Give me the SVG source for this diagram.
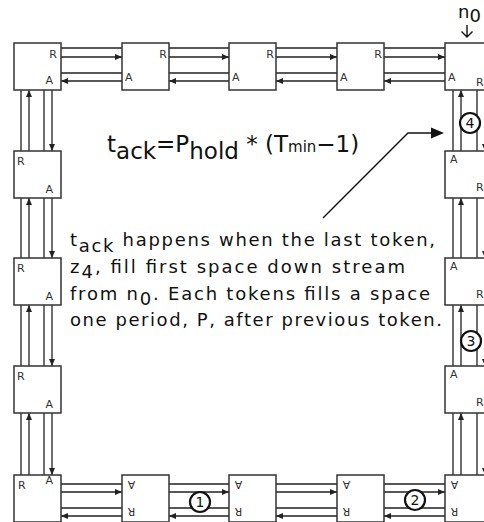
<svg xmlns="http://www.w3.org/2000/svg" width="484" height="522" viewBox="0 0 484 522">
<defs>
<style>
.box{fill:#fff;stroke:#333;stroke-width:1.5}
.ln{stroke:#222;stroke-width:1.3;fill:none}
.lbl{font-family:"DejaVu Sans","Liberation Sans",sans-serif;font-size:11px;fill:#333}
.txt{font-family:"DejaVu Sans","Liberation Sans",sans-serif;font-size:18px;fill:#111}
.eq{font-family:"DejaVu Sans","Liberation Sans",sans-serif;font-size:23px;fill:#111}
.circ{fill:#fff;stroke:#111;stroke-width:2.2}
.num{font-family:"DejaVu Sans","Liberation Sans",sans-serif;font-size:14px;fill:#111;text-anchor:middle}
</style>
<marker id="ah" markerWidth="7" markerHeight="6" refX="7" refY="3" orient="auto" markerUnits="userSpaceOnUse">
<path d="M0,0 L7,3 L0,6 z" fill="#222"/>
</marker>
</defs>

<g id="connectors">
<g class="ln">
<!-- top row -->
<path d="M61,48H122M61,57H122" marker-end="url(#ah)"/>
<path d="M169,48H229M169,57H229" marker-end="url(#ah)"/>
<path d="M276,48H337M276,57H337" marker-end="url(#ah)"/>
<path d="M384,48H445M384,57H445" marker-end="url(#ah)"/>
<path d="M122,73H61M122,81H61" marker-end="url(#ah)"/>
<path d="M229,73H169M229,81H169" marker-end="url(#ah)"/>
<path d="M337,73H276M337,81H276" marker-end="url(#ah)"/>
<path d="M445,73H384M445,81H384" marker-end="url(#ah)"/>
<!-- bottom row -->
<path d="M61,484H122M61,492H122" marker-end="url(#ah)"/>
<path d="M169,484H229M169,492H229" marker-end="url(#ah)"/>
<path d="M276,484H337M276,492H337" marker-end="url(#ah)"/>
<path d="M384,484H445M384,492H445" marker-end="url(#ah)"/>
<path d="M122,508H61M122,516H61" marker-end="url(#ah)"/>
<path d="M229,508H169M229,516H169" marker-end="url(#ah)"/>
<path d="M337,508H276M337,516H276" marker-end="url(#ah)"/>
<path d="M445,508H384M445,516H384" marker-end="url(#ah)"/>
<!-- left column -->
<path d="M21,151V90M29,151V90" marker-end="url(#ah)"/>
<path d="M44,90V151M52,90V151" marker-end="url(#ah)"/>
<path d="M21,258V198M29,258V198" marker-end="url(#ah)"/>
<path d="M44,198V258M52,198V258" marker-end="url(#ah)"/>
<path d="M21,366V305M29,366V305" marker-end="url(#ah)"/>
<path d="M44,305V366M52,305V366" marker-end="url(#ah)"/>
<path d="M21,475V413M29,475V413" marker-end="url(#ah)"/>
<path d="M44,413V475M52,413V475" marker-end="url(#ah)"/>
<!-- right column -->
<path d="M453,151V90M461,151V90" marker-end="url(#ah)"/>
<path d="M477,90V151M485,90V151" marker-end="url(#ah)"/>
<path d="M453,258V198M461,258V198" marker-end="url(#ah)"/>
<path d="M477,198V258M485,198V258" marker-end="url(#ah)"/>
<path d="M453,366V305M461,366V305" marker-end="url(#ah)"/>
<path d="M477,305V366M485,305V366" marker-end="url(#ah)"/>
<path d="M453,475V413M461,475V413" marker-end="url(#ah)"/>
<path d="M477,413V475M485,413V475" marker-end="url(#ah)"/>
</g>
<!-- pointer -->
<path d="M323,218L408,133H433" stroke="#111" stroke-width="1.4" fill="none"/>
<path d="M431,127.5L444,133L431,138.5z" fill="#111"/>
<!-- n0 arrow -->
<path d="M467,25V37M461.5,31.5L467,37L472.5,31.5" stroke="#111" stroke-width="1.4" fill="none"/>
</g>

<!-- top row -->
<g id="n-t1"><rect class="box" x="14" y="43" width="47" height="47"/><text class="lbl" x="57" y="58" text-anchor="end">R</text><text class="lbl" x="53" y="84" text-anchor="end">A</text></g>
<g id="n-t2"><rect class="box" x="122" y="43" width="47" height="47"/><text class="lbl" x="167" y="58" text-anchor="end">R</text><text class="lbl" x="125" y="81">A</text></g>
<g id="n-t3"><rect class="box" x="229" y="43" width="47" height="47"/><text class="lbl" x="274" y="58" text-anchor="end">R</text><text class="lbl" x="232" y="81">A</text></g>
<g id="n-t4"><rect class="box" x="337" y="43" width="47" height="47"/><text class="lbl" x="382" y="58" text-anchor="end">R</text><text class="lbl" x="340" y="81">A</text></g>
<g id="n-t5"><rect class="box" x="445" y="43" width="47" height="47"/><text class="lbl" x="448" y="81">A</text><text class="lbl" x="476" y="86">R</text></g>

<!-- left column -->
<g id="n-l2"><rect class="box" x="14" y="151" width="47" height="47"/><text class="lbl" x="17" y="165">R</text><text class="lbl" x="53" y="193" text-anchor="end">A</text></g>
<g id="n-l3"><rect class="box" x="14" y="258" width="47" height="47"/><text class="lbl" x="17" y="272">R</text><text class="lbl" x="53" y="300" text-anchor="end">A</text></g>
<g id="n-l4"><rect class="box" x="14" y="366" width="47" height="47"/><text class="lbl" x="17" y="380">R</text><text class="lbl" x="53" y="408" text-anchor="end">A</text></g>
<g id="n-l5"><rect class="box" x="14" y="475" width="47" height="47"/><text class="lbl" x="18" y="489">R</text><text class="lbl" x="53" y="484" text-anchor="end">A</text></g>

<!-- right column -->
<g id="n-r2"><rect class="box" x="445" y="151" width="47" height="47"/><text class="lbl" x="450" y="163">A</text><text class="lbl" x="476" y="191">R</text></g>
<g id="n-r3"><rect class="box" x="445" y="258" width="47" height="47"/><text class="lbl" x="450" y="270">A</text><text class="lbl" x="476" y="298">R</text></g>
<g id="n-r4"><rect class="box" x="445" y="366" width="47" height="47"/><text class="lbl" x="450" y="378">A</text><text class="lbl" x="476" y="406">R</text></g>

<!-- bottom row -->
<g id="n-b2"><rect class="box" x="122" y="475" width="47" height="47"/><text class="lbl" x="131.5" y="488.5" text-anchor="middle" transform="rotate(180 131.5 484.5)">A</text><text class="lbl" x="131.5" y="516" text-anchor="middle" transform="rotate(180 131.5 512)">R</text></g>
<g id="n-b3"><rect class="box" x="229" y="475" width="47" height="47"/><text class="lbl" x="238.5" y="488.5" text-anchor="middle" transform="rotate(180 238.5 484.5)">A</text><text class="lbl" x="238.5" y="516" text-anchor="middle" transform="rotate(180 238.5 512)">R</text></g>
<g id="n-b4"><rect class="box" x="337" y="475" width="47" height="47"/><text class="lbl" x="346.5" y="488.5" text-anchor="middle" transform="rotate(180 346.5 484.5)">A</text><text class="lbl" x="346.5" y="516" text-anchor="middle" transform="rotate(180 346.5 512)">R</text></g>
<g id="n-b5"><rect class="box" x="445" y="475" width="47" height="47"/><text class="lbl" x="454.5" y="488.5" text-anchor="middle" transform="rotate(180 454.5 484.5)">A</text><text class="lbl" x="454.5" y="516" text-anchor="middle" transform="rotate(180 454.5 512)">R</text></g>

<!-- circled token numbers -->
<g id="tok1"><circle class="circ" cx="200" cy="502" r="10"/><text class="num" x="200" y="507">1</text></g>
<g id="tok2"><circle class="circ" cx="415" cy="500" r="10"/><text class="num" x="415" y="505">2</text></g>
<g id="tok3"><circle class="circ" cx="471" cy="341" r="10"/><text class="num" x="471" y="346">3</text></g>
<g id="tok4"><circle class="circ" cx="470" cy="123" r="10"/><text class="num" x="470" y="128">4</text></g>

<!-- n0 label -->
<text class="txt" x="458" y="18" font-size="16">n<tspan dy="4">0</tspan></text>

<!-- equation -->
<text class="eq" x="107" y="152">t<tspan dy="7">ack</tspan><tspan dy="-7">=P</tspan><tspan dy="7">hold</tspan><tspan dy="-7"> * (T</tspan><tspan font-size="15">min</tspan>−1)</text>

<!-- explanation -->
<text class="txt" x="70" y="246" textLength="365" lengthAdjust="spacing">t<tspan dy="6">ack</tspan><tspan dy="-6"> happens when the last token,</tspan></text>
<text class="txt" x="70" y="273" textLength="335" lengthAdjust="spacing">z<tspan dy="5">4</tspan><tspan dy="-5">, fill first space down stream</tspan></text>
<text class="txt" x="70" y="300" textLength="360" lengthAdjust="spacing">from n<tspan dy="5">0</tspan><tspan dy="-5">. Each tokens fills a space</tspan></text>
<text class="txt" x="70" y="326" textLength="372" lengthAdjust="spacing">one period, P, after previous token.</text>
</svg>
